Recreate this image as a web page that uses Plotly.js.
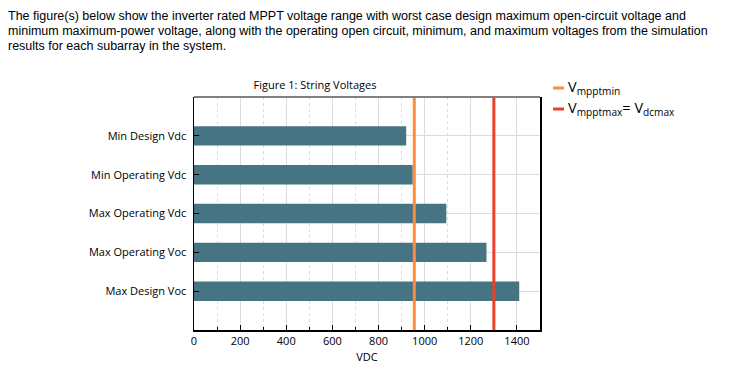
<!DOCTYPE html>
<html>
<head>
<meta charset="utf-8">
<script src="https://cdn.plot.ly/plotly-3.0.1.min.js"></script>
<style>
  html, body { margin: 0; padding: 0; background: #fff; width: 749px; height: 372px; overflow: hidden; }
  #intro { position: absolute; left: 8px; top: 9px; width: 712px; font-family: Arial, "Liberation Sans", sans-serif; font-size: 12.5px; line-height: 15px; color: #000; z-index: 2; }
  #chart { position: absolute; left: 0; top: 0; width: 749px; height: 372px; }
</style>
</head>
<body>
<div id="intro">The figure(s) below show the inverter rated MPPT voltage range with worst case design maximum open-circuit voltage and minimum maximum-power voltage, along with the operating open circuit, minimum, and maximum voltages from the simulation results for each subarray in the system.</div>
<div id="chart"></div>
<script>
// Categories (bottom to top)
const categories = ["Max Design Voc", "Max Operating Voc", "Max Operating Vdc", "Min Operating Vdc", "Min Design Vdc"];
const voltages = [1410, 1268, 1094, 948, 920];
const limitNames = ["V<sub>mpptmin</sub>", "V<sub>mpptmax</sub>= V<sub>dcmax</sub>"];
const limitValues = [955, 1300];
const limitColors = ["#FF8C3C", "#E8402A"];
const xTickVals = [0, 200, 400, 600, 800, 1000, 1200, 1400];

const barTrace = {
  type: "bar",
  orientation: "h",
  y: categories,
  x: voltages,
  marker: { color: "#467482" },
  width: 0.5,
  showlegend: false,
  hoverinfo: "x+y"
};

const font = "Open Sans, Noto Sans, sans-serif";

const shapes = limitValues.map((v, i) => ({
  type: "line", xref: "x", yref: "paper",
  x0: v, x1: v, y0: 0, y1: 1,
  line: { color: limitColors[i], width: 3 },
  layer: "above"
}));
// top frame line (gray)
shapes.push({ type: "line", xref: "paper", yref: "paper", x0: 0, x1: 1, y0: 1, y1: 1, line: { color: "#808080", width: 2 }, layer: "above" });

// custom legend (paper coordinates: plot spans x 194..540, y 97..330 px)
const legendTop = [88, 109];
const annotations = [];
limitNames.forEach((name, i) => {
  const yp = (330 - legendTop[i]) / 233;
  shapes.push({ type: "line", xref: "paper", yref: "paper",
    x0: (553 - 194) / 346, x1: (564 - 194) / 346, y0: yp, y1: yp,
    line: { color: limitColors[i], width: 3 } });
  annotations.push({ xref: "paper", yref: "paper", x: (566 - 194) / 346, y: yp + 1 / 233,
    xanchor: "left", yanchor: "middle", showarrow: false, text: name,
    font: { family: font, size: 14.5, color: "#000" } });
});

const layout = {
  width: 749, height: 372,
  margin: { l: 194, r: 209, t: 97, b: 42 },
  paper_bgcolor: "rgba(0,0,0,0)",
  plot_bgcolor: "#fff",
  font: { family: font, size: 11, color: "#000" },
  title: { text: "Figure 1: String Voltages", font: { family: font, size: 11, color: "#000" }, x: 315 / 749, xanchor: "center", y: 1 - 85 / 372, yanchor: "middle" },
  xaxis: {
    range: [0, 1500],
    tickvals: xTickVals,
    ticks: "inside", ticklen: 5, tickcolor: "#000",
    showline: true, linecolor: "#000", linewidth: 1.5,
    showgrid: true, gridcolor: "#DCDCDC", gridwidth: 1,
    zeroline: false,
    minor: { dtick: 100, ticks: "inside", ticklen: 3, tickcolor: "#000", showgrid: true, gridcolor: "#DCDCDC", griddash: "dot" },
    title: { text: "VDC", font: { family: font, size: 11, color: "#000" }, standoff: 6 },
    tickfont: { family: font, size: 11, color: "#000" },
    fixedrange: true
  },
  yaxis: {
    type: "category",
    categoryorder: "array", categoryarray: categories,
    range: [-1, 5],
    ticks: "inside", ticklen: 5, tickcolor: "#000",
    showline: true, linecolor: "#000", linewidth: 1.5, mirror: true,
    showgrid: true, gridcolor: "#DCDCDC",
    tickfont: { family: font, size: 11, color: "#000" },
    ticklabelstandoff: 4,
    fixedrange: true
  },
  shapes: shapes,
  annotations: annotations,
  showlegend: false
};

Plotly.newPlot("chart", [barTrace], layout, { displayModeBar: false, staticPlot: true });
</script>
</body>
</html>
